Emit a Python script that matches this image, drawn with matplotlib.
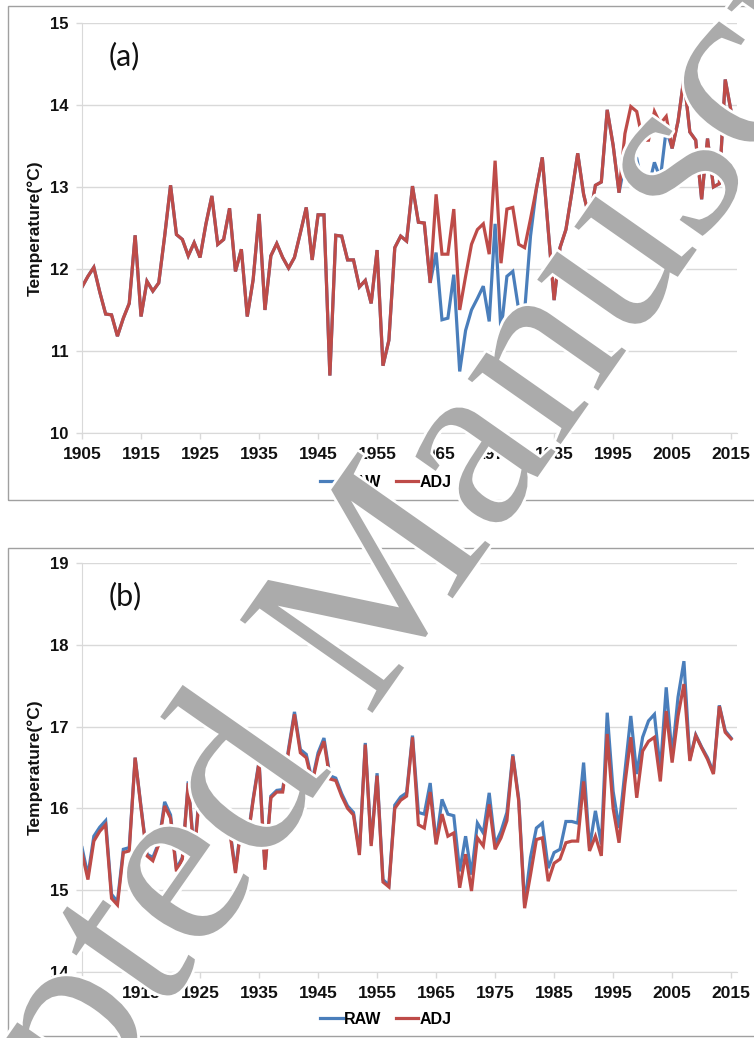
import matplotlib
matplotlib.use("Agg")
import matplotlib.pyplot as plt
import matplotlib.patheffects as pe
from matplotlib.patches import Rectangle

# years on the x axis
years = list(range(1905, 2016))

# panel (a) mean temperature, adjusted and raw series
adj_a = [11.78, 11.91, 12.02, 11.72, 11.45, 11.44, 11.18, 11.40, 11.58, 12.41,
         11.42, 11.85, 11.73, 11.83, 12.40, 13.02, 12.42, 12.36, 12.16, 12.32,
         12.14, 12.55, 12.89, 12.30, 12.36, 12.74, 11.97, 12.24, 11.42, 11.87,
         12.67, 11.50, 12.16, 12.31, 12.14, 12.01, 12.14, 12.44, 12.75, 12.11,
         12.66, 12.66, 10.70, 12.41, 12.40, 12.11, 12.11, 11.78, 11.86, 11.58,
         12.23, 10.82, 11.13, 12.26, 12.40, 12.34, 13.01, 12.57, 12.56, 11.83,
         12.91, 12.18, 12.18, 12.73, 11.50, 11.91, 12.30, 12.48, 12.55, 12.18,
         13.32, 12.07, 12.73, 12.75, 12.30, 12.26, 12.61, 12.98, 13.36, 12.48,
         11.62, 12.26, 12.48, 12.93, 13.41, 12.91, 12.61, 13.02, 13.06, 13.94,
         13.51, 12.93, 13.65, 13.98, 13.92, 13.57, 13.57, 13.92, 13.77, 13.86,
         13.47, 13.80, 14.33, 13.67, 13.57, 12.85, 13.59, 13.00, 13.04, 14.31,
         13.92]
raw_a = [11.78, 11.91, 12.02, 11.72, 11.45, 11.44, 11.18, 11.40, 11.58, 12.41,
         11.42, 11.85, 11.73, 11.83, 12.40, 13.02, 12.42, 12.36, 12.16, 12.32,
         12.14, 12.55, 12.89, 12.30, 12.36, 12.74, 11.97, 12.24, 11.42, 11.87,
         12.67, 11.50, 12.16, 12.31, 12.14, 12.01, 12.14, 12.44, 12.75, 12.11,
         12.66, 12.66, 10.70, 12.41, 12.40, 12.11, 12.11, 11.78, 11.86, 11.58,
         12.23, 10.82, 11.13, 12.26, 12.40, 12.34, 13.01, 12.57, 12.56, 11.83,
         12.20, 11.38, 11.40, 11.93, 10.75, 11.25, 11.50, 11.64, 11.79, 11.36,
         12.55, 11.23, 11.91, 11.97, 11.50, 11.48, 12.40, 12.98, 13.36, 12.48,
         11.62, 12.26, 12.48, 12.93, 13.41, 12.91, 12.61, 13.02, 13.06, 13.94,
         13.51, 12.93, 13.30, 13.40, 13.35, 13.00, 13.00, 13.30, 13.10, 13.70,
         13.47, 13.80, 14.33, 13.67, 13.57, 12.85, 13.59, 13.00, 13.04, 14.31,
         13.92]

# panel (b)
adj_b = [15.45, 15.13, 15.60, 15.72, 15.80, 14.90, 14.82, 15.46, 15.48, 16.62,
         16.00, 15.42, 15.36, 15.56, 16.03, 15.88, 15.23, 15.38, 16.31, 15.42,
         16.23, 16.25, 16.15, 16.03, 15.87, 15.74, 15.21, 15.80, 15.58, 16.10,
         16.56, 15.25, 16.13, 16.20, 16.20, 16.70, 17.15, 16.68, 16.62, 16.31,
         16.64, 16.82, 16.36, 16.34, 16.15, 16.00, 15.92, 15.43, 16.78, 15.54,
         16.40, 15.10, 15.04, 16.00, 16.10, 16.15, 16.87, 15.80, 15.76, 16.20,
         15.56, 15.93, 15.66, 15.70, 15.03, 15.44, 14.99, 15.64, 15.54, 16.05,
         15.50, 15.64, 15.85, 16.64, 16.09, 14.78, 15.19, 15.62, 15.64, 15.11,
         15.33, 15.38, 15.58, 15.60, 15.60, 16.33, 15.48, 15.66, 15.42, 16.91,
         16.00, 15.58, 16.30, 16.87, 16.13, 16.70, 16.82, 16.87, 16.33, 17.19,
         16.56, 17.13, 17.52, 16.58, 16.89, 16.74, 16.60, 16.42, 17.25, 16.93,
         16.85]
raw_b = [15.52, 15.18, 15.66, 15.77, 15.85, 14.95, 14.86, 15.50, 15.52, 16.62,
         16.02, 15.44, 15.40, 15.58, 16.08, 15.92, 15.26, 15.40, 16.33, 15.45,
         16.27, 16.30, 16.18, 16.06, 15.90, 15.77, 15.24, 15.82, 15.60, 16.12,
         16.58, 15.28, 16.15, 16.22, 16.23, 16.73, 17.18, 16.72, 16.66, 16.34,
         16.68, 16.86, 16.40, 16.37, 16.18, 16.03, 15.95, 15.46, 16.80, 15.57,
         16.43, 15.13, 15.06, 16.04, 16.14, 16.19, 16.89, 15.95, 15.93, 16.31,
         15.58, 16.11, 15.93, 15.91, 15.23, 15.66, 15.19, 15.82, 15.70, 16.19,
         15.56, 15.72, 15.95, 16.66, 16.12, 14.82, 15.40, 15.76, 15.82, 15.27,
         15.46, 15.50, 15.84, 15.84, 15.82, 16.56, 15.52, 15.97, 15.56, 17.17,
         16.21, 15.76, 16.45, 17.13, 16.42, 16.87, 17.07, 17.15, 16.46, 17.48,
         16.64, 17.36, 17.80, 16.60, 16.90, 16.75, 16.62, 16.44, 17.26, 16.95,
         16.86]

xticks = [1905, 1915, 1925, 1935, 1945, 1955, 1965, 1975, 1985, 1995, 2005, 2015]

BLUE = '#4a7ebb'
RED = '#be4b48'
GRID = '#d9d9d9'


def draw_panel(fig, rect, raw, adj, ylim, label, legend_y):
    ax = fig.add_axes(rect)
    ax.plot(years, raw, color=BLUE, lw=2.3, label='RAW', solid_joinstyle='miter')
    ax.plot(years, adj, color=RED, lw=2.3, label='ADJ', solid_joinstyle='miter')
    ax.set_xlim(1905, 2016)
    ax.set_ylim(*ylim)
    ax.set_yticks(range(ylim[0], ylim[1] + 1))
    ax.set_xticks(xticks)
    ax.yaxis.grid(True, color=GRID, lw=1)
    ax.set_axisbelow(True)
    for s in ['top', 'right']:
        ax.spines[s].set_visible(False)
    for s in ['left', 'bottom']:
        ax.spines[s].set_color(GRID)
    ax.tick_params(axis='both', colors=GRID, length=4, width=1)
    for t in ax.get_xticklabels():
        t.set_color('#111111')
        t.set_fontweight('bold')
        t.set_fontsize(12.5)
        t.set_family('Liberation Sans')
    for t in ax.get_yticklabels():
        t.set_color('#111111')
        t.set_fontweight('bold')
        t.set_fontsize(12)
        t.set_family('Liberation Sans')
    ax.tick_params(axis='x', pad=6)
    ax.tick_params(axis='y', pad=6)
    ax.set_ylabel('Temperature(°C)', fontsize=12.5, fontweight='bold',
                  family='Liberation Sans', color='#111111', labelpad=5)
    ax.text(0.04, 0.92, label, transform=ax.transAxes, fontsize=22,
            family='Lato', color='#111111', va='center', ha='left')
    fig.legend(handles=ax.get_lines(), loc='center', bbox_to_anchor=(0.512, legend_y),
               ncol=2, frameon=False, handlelength=1.4, handletextpad=0.1,
               columnspacing=0.9, prop={'family': 'Liberation Sans', 'weight': 'bold', 'size': 11.5})
    return ax


fig = plt.figure(figsize=(7.54, 10.38), dpi=100)

ax_a = draw_panel(fig, [0.1088, 0.5829, 0.8687, 0.395], raw_a, adj_a, (10, 15), '(a)', 0.5356)
ax_b = draw_panel(fig, [0.1088, 0.0636, 0.8687, 0.394], raw_b, adj_b, (14, 19), '(b)', 0.0183)

# outer chart frames
fig.patches.append(Rectangle((8 / 754, 1 - 500 / 1038), 0.999, 494 / 1038, fill=False,
                             edgecolor='#a0a0a0', lw=1, transform=fig.transFigure))
fig.patches.append(Rectangle((8 / 754, 1 - 1036 / 1038), 0.999, 488 / 1038, fill=False,
                             edgecolor='#a0a0a0', lw=1, transform=fig.transFigure))

# watermark
fig.text(406 / 754, 1 - 665 / 1038, 'Accepted Manuscript', fontsize=178, family='Liberation Serif',
         color='#ababab', rotation=55, rotation_mode='anchor', ha='center', va='baseline',
         zorder=20, path_effects=[pe.withStroke(linewidth=4, foreground='white')])

fig.savefig('out.png', dpi=100)
